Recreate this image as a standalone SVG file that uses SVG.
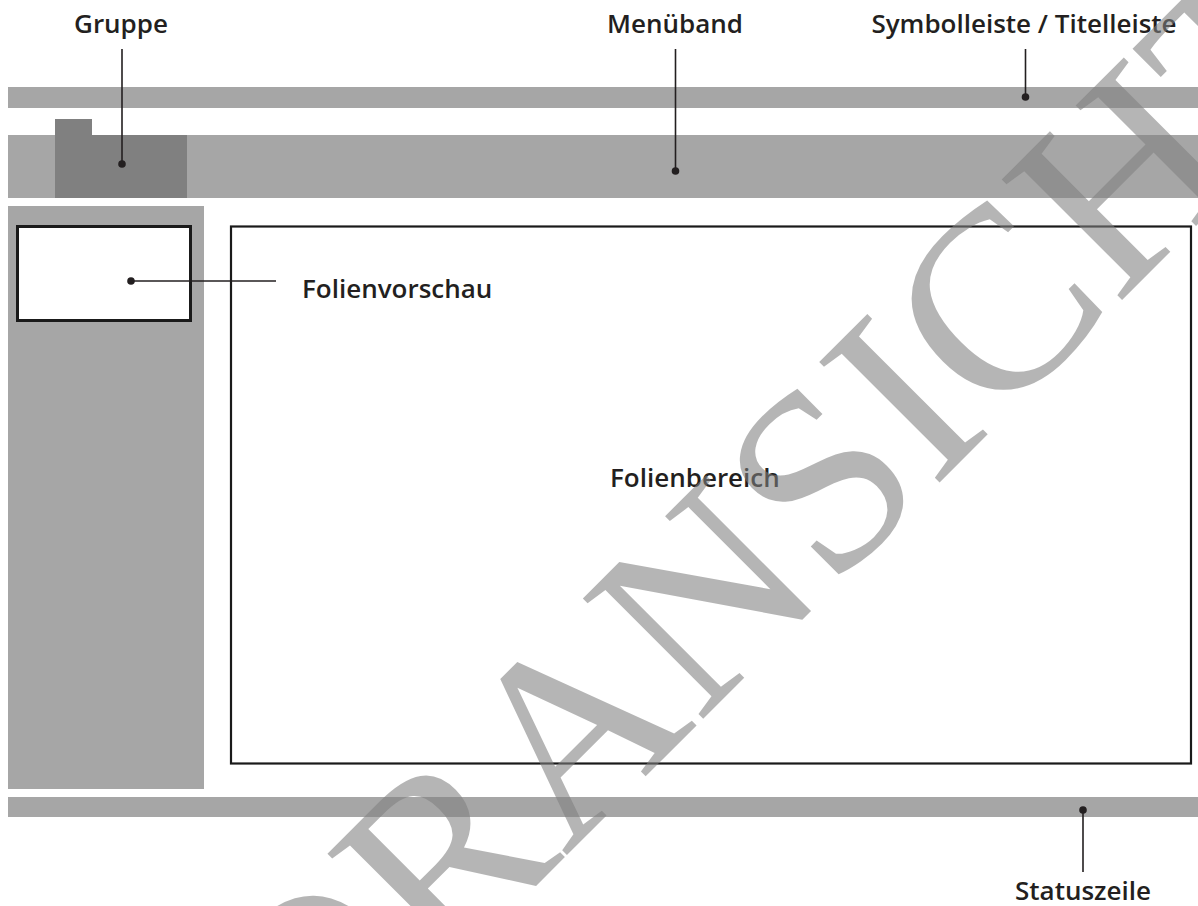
<svg xmlns="http://www.w3.org/2000/svg" width="1198" height="906" viewBox="0 0 1198 906">
<style>
.bar{fill:#a6a6a6}
.grp{fill:#808080}
.frame{fill:#ffffff;stroke:#1a1a1a}
.lbl{font-family:"Open Sans","Liberation Sans",sans-serif;font-weight:600;font-size:26px;fill:#231f20}
.lead{stroke:#231f20;stroke-width:1.6;fill:none}
.dot{fill:#231f20}
.wm{font-family:"Liberation Serif","Times New Roman",serif;font-size:260px;fill:#7f7f7f;fill-opacity:0.58}
</style>
<rect width="1198" height="906" fill="#ffffff"/>
<g id="symbolleiste"><rect class="bar" x="8" y="87" width="1190" height="21"/></g>
<g id="menueband"><rect class="bar" x="8" y="135" width="1190" height="63"/></g>
<g id="gruppe"><path class="grp" d="M55 119H92V135H187V198H55Z"/></g>
<g id="seitenleiste"><rect class="bar" x="8" y="206" width="196" height="583"/></g>
<g id="folienvorschau"><rect class="frame" x="17.5" y="226.5" width="173" height="94" stroke-width="3"/></g>
<g id="folienbereich"><rect class="frame" x="231" y="226.5" width="960" height="537" stroke-width="2.2"/>
<text class="lbl" x="610" y="487">Folienbereich</text></g>
<g id="statuszeile"><rect class="bar" x="8" y="797" width="1190" height="20"/></g>
<g id="labels">
<text class="lbl" x="121" y="33" text-anchor="middle">Gruppe</text>
<text class="lbl" x="675" y="33" text-anchor="middle">Menüband</text>
<text class="lbl" x="1024" y="33" text-anchor="middle">Symbolleiste / Titelleiste</text>
<text class="lbl" x="302" y="298">Folienvorschau</text>
<text class="lbl" x="1083" y="900" text-anchor="middle">Statuszeile</text>
</g>
<g id="connectors">
<line class="lead" x1="122" y1="49" x2="122" y2="164"/><circle class="dot" cx="122" cy="164" r="3.8"/>
<line class="lead" x1="675.5" y1="49" x2="675.5" y2="171"/><circle class="dot" cx="675.5" cy="171" r="3.8"/>
<line class="lead" x1="1025.5" y1="49" x2="1025.5" y2="97"/><circle class="dot" cx="1025.5" cy="97" r="3.8"/>
<line class="lead" x1="131" y1="281" x2="276" y2="281"/><circle class="dot" cx="131" cy="281" r="3.8"/>
<line class="lead" x1="1083" y1="810" x2="1083" y2="872"/><circle class="dot" cx="1083" cy="810" r="3.8"/>
</g>
<g id="watermark"><text class="wm" transform="translate(177 1245) rotate(-45)">VORANSICHT</text></g>
</svg>
